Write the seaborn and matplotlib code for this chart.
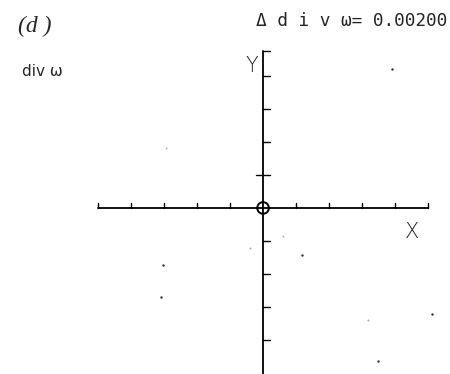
import numpy as np
import pandas as pd
import matplotlib
matplotlib.use("Agg")
import matplotlib.pyplot as plt
import seaborn as sns

# axis ticks (grid units), both axes run from -5 to 5
x_ticks = [-5, -4, -3, -2, -1, 1, 2, 3, 4, 5]
y_ticks = [-4, -3, -2, -1, 1, 2, 3, 4]
y_top = 4.75

# scattered divergence dots
dot_x = [3.90, -3.03, -3.09, 1.18, 5.10, 3.48]
dot_y = [4.20, -1.73, -2.70, -1.42, -3.22, -4.64]
faint_x = [-2.94, 3.18, 0.6, -0.4]
faint_y = [1.82, -3.40, -0.85, -1.2]

sns.set_style("white")
plt.rcParams['font.family'] = ['DejaVu Sans']

fig = plt.figure(figsize=(4.5, 3.74), dpi=100)
ax = fig.add_axes([0, 0, 1, 1])
ax.set_xlim(-7.95, 5.65)
ax.set_ylim(-5.03, 6.3)
ax.axis("off")

lw = 1.3
k = "black"
# X axis with upward ticks
ax.plot([-5, 5], [0, 0], color=k, lw=lw)
for t in x_ticks:
    ax.plot([t, t], [0, 0.16], color=k, lw=1.0)

# Y axis with ticks to the right, hook on top
ax.plot([0, 0], [-5.2, y_top], color=k, lw=lw)
for t in y_ticks:
    ax.plot([0, 0.2], [t, t], color=k, lw=1.0)
ax.plot([0, 0.2], [y_top, y_top], color=k, lw=1.0)
ax.plot([-0.2, 0], [1, 1], color=k, lw=1.0)

# origin marker
sns.scatterplot(x=[0], y=[0], ax=ax, s=70, marker="o", facecolor="none",
                edgecolor=k, linewidth=1.4, legend=False)

# dots
dots = pd.DataFrame({"x": dot_x, "y": dot_y})
sns.scatterplot(data=dots, x="x", y="y", ax=ax, s=3, color="#333333",
                linewidth=0, legend=False)
faint = pd.DataFrame({"x": faint_x, "y": faint_y})
sns.scatterplot(data=faint, x="x", y="y", ax=ax, s=2, color="#aaaaaa",
                linewidth=0, legend=False)

# labels
ax.text(-0.35, 4.3, "Y", fontsize=15, ha="center", va="center",
        fontweight="light")
ax.text(4.5, -0.72, "X", fontsize=15, ha="center", va="center",
        fontweight="light")
fig.text(0.04, 0.93, "(d )", fontsize=17, style="italic",
         family="Liberation Serif", va="center")
fig.text(0.05, 0.81, "div ω", fontsize=11, va="center")
fig.text(0.568, 0.945, "Δ d i v ω= 0.00200", fontsize=12.8,
         family="DejaVu Sans Mono", va="center")

fig.savefig("out.png", dpi=100)
